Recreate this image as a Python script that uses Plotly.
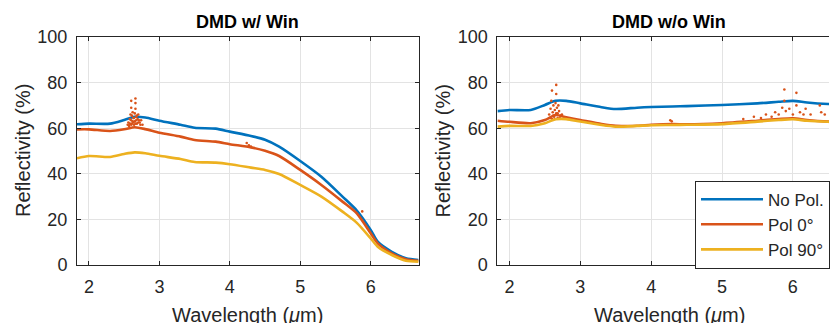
import plotly.graph_objects as go

# ---------------- data ----------------
wl_left = [1.83, 2.0, 2.3, 2.5, 2.65, 2.8, 3.0, 3.3, 3.5, 3.8, 4.0, 4.3, 4.5, 4.7,
           5.0, 5.3, 5.6, 5.8, 6.0, 6.1, 6.3, 6.5, 6.68]
win_nopol = [61.7, 62.0, 62.0, 63.6, 65.0, 64.7, 63.3, 61.5, 60.2, 59.8, 58.5, 56.6, 54.9, 51.9,
             45.6, 38.7, 30.0, 24.0, 15.4, 10.2, 5.8, 3.0, 2.2]
win_pol0 = [59.5, 59.5, 58.8, 59.5, 60.4, 59.6, 58.0, 56.3, 54.8, 54.1, 53.0, 51.6, 50.1, 47.8,
            41.7, 35.1, 27.8, 22.7, 13.9, 9.5, 5.1, 2.5, 1.8]
win_pol90 = [46.8, 47.8, 47.4, 48.7, 49.4, 49.0, 47.9, 46.5, 45.2, 44.9, 44.2, 42.7, 41.7, 39.9,
             35.1, 30.0, 23.4, 18.6, 11.7, 8.0, 4.4, 1.9, 1.5]

wl_right = [1.83, 2.0, 2.3, 2.5, 2.65, 2.8, 3.0, 3.3, 3.5, 3.8, 4.0, 4.3, 4.5, 5.0,
            5.5, 5.8, 6.0, 6.2, 6.5, 6.68]
nowin_nopol = [67.5, 68.0, 68.0, 70.2, 72.0, 72.0, 70.9, 69.2, 68.4, 69.0, 69.3, 69.5, 69.7, 70.2,
               70.9, 71.6, 72.0, 71.3, 70.6, 70.4]
nowin_pol0 = [63.3, 62.8, 62.2, 63.6, 65.8, 64.8, 63.6, 61.8, 61.0, 61.1, 61.5, 61.8, 61.7, 62.2,
              63.3, 64.0, 64.3, 63.6, 62.9, 62.7]
nowin_pol90 = [60.7, 61.0, 61.0, 62.2, 63.9, 64.0, 62.9, 61.4, 60.7, 61.0, 61.3, 61.4, 61.5, 61.8,
               62.9, 63.6, 63.9, 63.3, 62.8, 62.6]

spk_left_x = [2.55, 2.56, 2.57, 2.58, 2.58, 2.59, 2.60, 2.60, 2.60, 2.60, 2.61, 2.61, 2.62,
              2.62, 2.63, 2.63, 2.64, 2.64, 2.65, 2.65, 2.66, 2.66, 2.66, 2.66, 2.67, 2.67,
              2.68, 2.68, 2.69, 2.70, 2.70, 2.71, 2.72, 2.73, 2.74, 2.76, 4.24, 4.27, 4.30,
              5.88]
spk_left_y = [61.5, 62.5, 61.0, 64.0, 62.0, 66.0, 69.0, 72.0, 63.5, 61.5, 65.5, 62.0, 67.0,
              63.0, 62.5, 64.5, 64.5, 61.5, 66.5, 63.0, 68.5, 71.0, 73.0, 62.0, 63.5, 65.0,
              65.5, 62.0, 64.0, 66.0, 62.5, 63.5, 62.5, 61.5, 63.5, 61.5, 53.5, 52.5, 52.0,
              23.5]
spk_right_x = [2.56, 2.57, 2.58, 2.59, 2.60, 2.60, 2.61, 2.62, 2.62, 2.63, 2.64, 2.64, 2.65,
               2.66, 2.66, 2.66, 2.67, 2.68, 2.68, 2.69, 2.70, 2.71, 2.72, 2.74, 4.27, 4.29,
               5.30, 5.45, 5.55, 5.62, 5.70, 5.75, 5.80, 5.85, 5.88, 5.88, 5.90, 5.95, 6.00,
               6.05, 6.05, 6.10, 6.15, 6.18, 6.25, 6.38, 6.40, 6.45]
spk_right_y = [66.0, 64.5, 68.5, 72.0, 76.5, 64.0, 67.0, 70.0, 65.5, 65.0, 68.0, 64.0, 71.0,
               75.0, 79.0, 66.5, 69.0, 66.5, 64.5, 70.0, 67.5, 64.5, 65.5, 66.0, 63.5, 63.0,
               64.0, 65.0, 64.5, 66.0, 65.0, 67.0, 66.0, 69.0, 72.0, 77.0, 67.5, 68.5, 66.0,
               70.0, 75.5, 67.0, 66.0, 68.5, 66.0, 70.0, 67.0, 66.0]

series_names = ["No Pol.", "Pol 0°", "Pol 90°"]
colors = ["#0072BD", "#D95319", "#EDB120"]
x_ticks = [2, 3, 4, 5, 6]
y_ticks = [0, 20, 40, 60, 80, 100]

# ---------------- figure ----------------
FONT = "Arial, Liberation Sans, sans-serif"
INK = "#262626"
fig = go.Figure()

left = [win_nopol, win_pol0, win_pol90]
right = [nowin_nopol, nowin_pol0, nowin_pol90]
for i, (name, col) in enumerate(zip(series_names, colors)):
    fig.add_trace(go.Scatter(x=wl_left, y=left[i], mode="lines", name=name,
                             line=dict(color=col, width=2.6, shape="spline", smoothing=0.7),
                             xaxis="x", yaxis="y", showlegend=False))
    if i == 1:
        fig.add_trace(go.Scatter(x=spk_left_x, y=spk_left_y, mode="markers",
                                 marker=dict(color=col, size=2.6), xaxis="x", yaxis="y",
                                 showlegend=False))
for i, (name, col) in enumerate(zip(series_names, colors)):
    fig.add_trace(go.Scatter(x=wl_right, y=right[i], mode="lines", name=name,
                             line=dict(color=col, width=2.6, shape="spline", smoothing=0.7),
                             xaxis="x2", yaxis="y2", showlegend=True))
    if i == 1:
        fig.add_trace(go.Scatter(x=spk_right_x, y=spk_right_y, mode="markers",
                                 marker=dict(color=col, size=2.6), xaxis="x2", yaxis="y2",
                                 showlegend=False))

axis_common = dict(showline=True, linecolor=INK, linewidth=1, ticks="inside", ticklen=4,
                   tickcolor=INK, showgrid=True, gridcolor="#e3e3e3", gridwidth=1,
                   zeroline=False, ticklabelstandoff=5,
                   tickfont=dict(family=FONT, size=18, color=INK))

fig.update_layout(
    width=830, height=323,
    margin=dict(l=77, r=0, t=37, b=58),
    paper_bgcolor="white", plot_bgcolor="white",
    xaxis=dict(domain=[0, 0.4542], range=[1.83, 6.68], tickvals=x_ticks, mirror="ticks",
               anchor="y", **axis_common),
    yaxis=dict(domain=[0, 1], range=[0, 100], tickvals=y_ticks, mirror="ticks",
               anchor="x", **axis_common),
    xaxis2=dict(domain=[0.5591, 1.0], range=[1.83, 6.51], tickvals=x_ticks, mirror="ticks",
                anchor="y2", **axis_common),
    yaxis2=dict(domain=[0, 1], range=[0, 100], tickvals=y_ticks, mirror=False,
                anchor="x2", **axis_common),
    legend=dict(x=0.822, y=0.37, xanchor="left", yanchor="top",
                bgcolor="white", bordercolor=INK, borderwidth=1, itemwidth=62,
                font=dict(family=FONT, size=17, color=INK), tracegroupgap=0),
    showlegend=True,
)

titles = [("DMD w/ Win", "x", (1.83 + 6.68) / 2), ("DMD w/o Win", "x2", (1.83 + 6.68) / 2)]
for text, xr, xc in titles:
    fig.add_annotation(text="<b>%s</b>" % text, xref=xr, yref="paper", x=xc, y=1,
                       yanchor="bottom", yshift=3, showarrow=False,
                       font=dict(family=FONT, size=18, color="black"))
    fig.add_annotation(text="Wavelength (<i>μ</i>m)", xref=xr, yref="paper", x=xc, y=0,
                       yanchor="top", yshift=-37, showarrow=False,
                       font=dict(family=FONT, size=20, color=INK))

for xr in ["x domain", "x2 domain"]:
    fig.add_annotation(text="Reflectivity (%)", xref=xr, yref="paper", x=0, y=0.5,
                       xanchor="center", yanchor="middle", xshift=-54, textangle=-90,
                       showarrow=False, font=dict(family=FONT, size=20, color=INK))

fig.write_html("out.html", config={"displayModeBar": False},
               post_script="document.body.style.margin='0';")
